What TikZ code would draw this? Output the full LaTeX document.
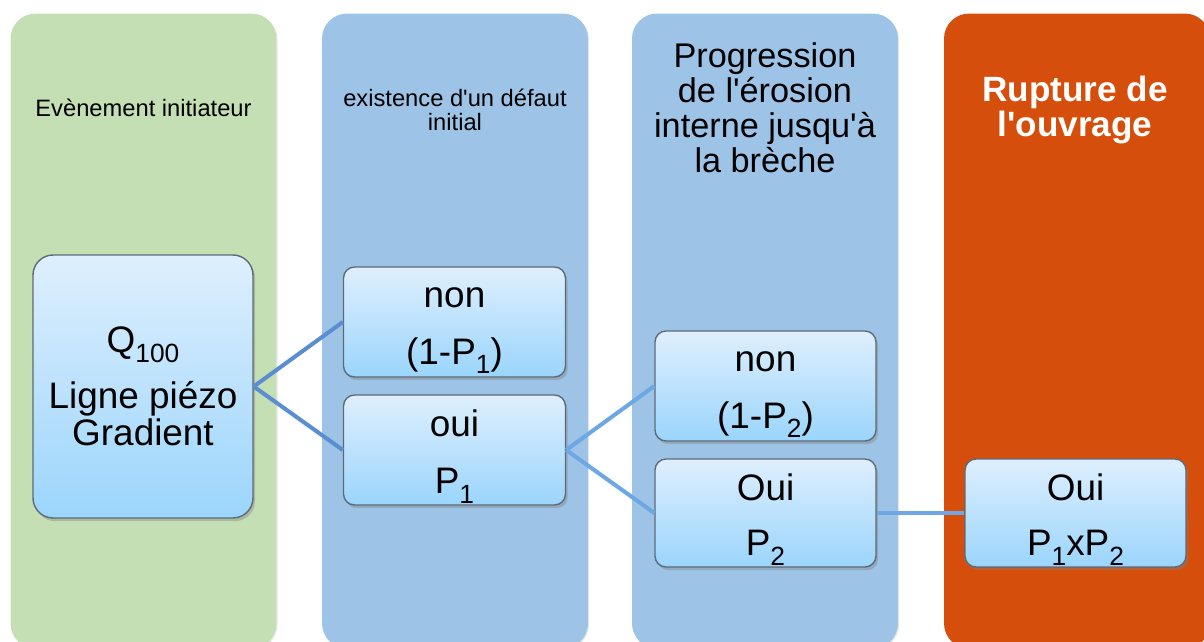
\documentclass[tikz,border=0pt]{standalone}
\usepackage{fontspec}
\setmainfont{Liberation Sans}[Ligatures=TeXOff]
\usetikzlibrary{positioning,shadows}
\definecolor{ebgreen}  {HTML}{C5DFB4}
\definecolor{ebblue}   {HTML}{9DC3E6}
\definecolor{eborange} {HTML}{D54E0B}
\definecolor{ebtop}    {HTML}{DEEFFD}
\definecolor{ebbottom} {HTML}{9BD5FC}
\definecolor{ebrim}    {HTML}{5E6A78}
\definecolor{eblinkA}  {HTML}{5B8ED0}
\definecolor{eblinkB}  {HTML}{6DA8E4}
% lowered subscript and fixed line strut for the box texts
\newcommand\ebsub[1]{\raisebox{-5.5pt}[0pt][0pt]{\fontsize{15}{15}\selectfont #1}}
\newcommand\ebline{\rule[-3pt]{0pt}{23pt}}
\tikzset{
  ebcol/.style={rounded corners=0.5cm, minimum width=5.32cm, minimum height=12.7cm,
                inner sep=0pt, drop shadow={shadow xshift=0.6pt, shadow yshift=-0.6pt, opacity=0.2}},
  ebbox/.style={draw=ebrim, line width=0.8pt, rounded corners=0.22cm, top color=ebtop,
                bottom color=ebbottom, align=center, inner sep=2pt,
                minimum width=4.44cm, minimum height=2.2cm,
                font=\fontsize{21}{21.5}\selectfont,
                drop shadow={shadow xshift=1.2pt, shadow yshift=-1.8pt, opacity=0.4}},
  ebedge/.style={line width=2.3pt},
  ebtitle/.style={align=center, inner sep=0pt},
}

\begin{document}
\begin{tikzpicture}[x=0.02cm, y=-0.02cm]
  \useasboundingbox (0,0) rectangle (1204,642);
  \clip (0,0) rectangle (1204,642);
  % four stages of the failure chain
  \foreach \cx/\cc/\cn in {143.5/ebgreen/colA, 455/ebblue/colB,
                           765/ebblue/colC, 1077/eborange/colD}
    { \node[ebcol, fill=\cc] (\cn) at (\cx,331) {}; }

  \node[ebtitle, font=\fontsize{13.5}{16}\selectfont] (titleA) at (143.5,108)
    {Evènement initiateur};
  \node[ebtitle, font=\fontsize{13.5}{13.8}\selectfont] (titleB) at (455,110)
    {existence d'un défaut\\initial};
  \node[ebtitle, font=\fontsize{19.5}{20}\selectfont] (titleC) at (765,108)
    {Progression\\de l'érosion\\interne jusqu'à\\la brèche};
  \node[ebtitle, font=\fontsize{20}{20}\selectfont\bfseries, text=white] (titleD) at (1075,110)
    {Rupture de\\l'ouvrage};

  \node[ebbox, rounded corners=0.4cm, minimum width=4.4cm, minimum height=5.26cm] (qbox) at (143,386.5)
    {Q\ebsub{100}\\[0.36cm]Ligne piézo\\Gradient};
  \node[ebbox] (nonA) at (454.5,322) {\ebline non\\[0.3cm]\ebline(1-P\ebsub{1})};
  \node[ebbox] (ouiA) at (454.5,450) {\ebline oui\\[0.3cm]\ebline P\ebsub{1}};
  \node[ebbox, minimum width=4.42cm] (nonB) at (765.5,386) {\ebline non\\[0.3cm]\ebline(1-P\ebsub{2})};
  \node[ebbox, minimum width=4.42cm, minimum height=2.16cm] (ouiB) at (765.5,513)
    {\ebline Oui\\[0.27cm]\ebline P\ebsub{2}};
  \node[ebbox, minimum width=4.42cm, minimum height=2.16cm] (ouiC) at (1075.5,513)
    {\ebline Oui\\[0.27cm]\ebline P\ebsub{1}xP\ebsub{2}};

  \draw[ebedge, eblinkA] (qbox.east) -- (nonA.west);
  \draw[ebedge, eblinkA] (qbox.east) -- (ouiA.west);
  \draw[ebedge, eblinkB] (ouiA.east) -- (nonB.west);
  \draw[ebedge, eblinkB] (ouiA.east) -- (ouiB.west);
  \draw[ebedge, eblinkB] (ouiB.east) -- (ouiC.west);
\end{tikzpicture}
\end{document}
